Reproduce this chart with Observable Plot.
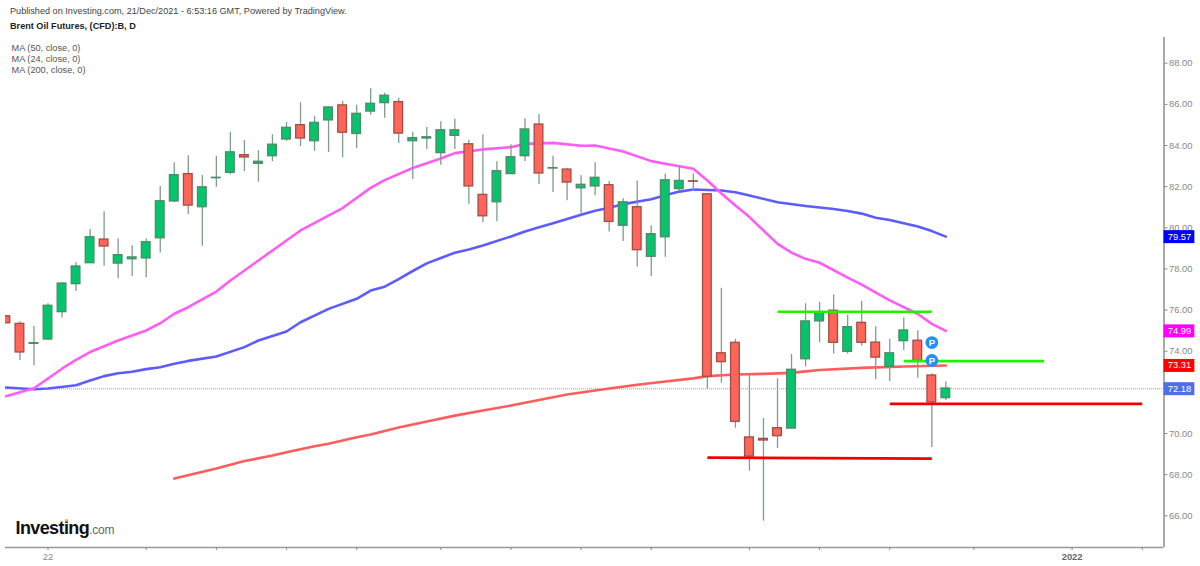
<!DOCTYPE html>
<html><head><meta charset="utf-8">
<script src="https://cdn.jsdelivr.net/npm/d3@7"></script>
<script src="https://cdn.jsdelivr.net/npm/@observablehq/plot@0.6"></script>
<style>
html,body{margin:0;padding:0;background:#fff;overflow:hidden}
#wrap{position:relative;width:1200px;height:566px;font-family:"Liberation Sans",Arial,sans-serif}
.t{position:absolute;white-space:nowrap;line-height:1}
svg{display:block}
</style></head><body><div id="wrap">
<div class="t" style="left:10px;top:6.5px;font-size:9.13px;color:#444">Published on Investing.com, 21/Dec/2021 - 6:53:16 GMT, Powered by TradingView.</div>
<div class="t" style="left:10px;top:22px;font-size:9.13px;font-weight:bold;color:#222">Brent Oil Futures, (CFD):B, D</div>
<div class="t" style="left:11.5px;top:43.5px;font-size:9.2px;color:#555">MA (50, close, 0)</div>
<div class="t" style="left:11.5px;top:54.5px;font-size:9.2px;color:#555">MA (24, close, 0)</div>
<div class="t" style="left:11.5px;top:65.5px;font-size:9.2px;color:#555">MA (200, close, 0)</div>
<div class="t" style="left:15.5px;top:519px;font-size:18px;font-weight:bold;letter-spacing:-0.6px;color:#111">Investing<span style="font-size:12px;font-weight:normal;letter-spacing:-0.2px;color:#666">.com</span></div>
<div style="position:absolute;left:65px;top:519px;width:3px;height:3px;border-radius:50%;background:#f5a623"></div>
</div>
<script>
const open = [75.70,75.33,74.36,74.57,75.90,77.26,78.28,79.43,78.26,78.47,78.51,79.49,81.28,82.61,81.00,82.41,82.67,83.53,83.11,83.48,84.29,84.99,84.21,85.22,85.95,84.56,85.65,86.06,86.11,84.21,84.34,83.63,84.47,84.06,81.60,81.24,82.61,83.48,85.02,82.88,82.83,81.92,82.01,82.07,80.10,81.00,78.59,79.54,81.88,82.26,81.63,73.90,74.41,69.81,69.74,70.26,70.24,73.61,75.45,75.97,73.97,75.38,74.42,73.24,74.49,74.51,72.82,71.72];
const high = [75.70,75.43,75.20,76.31,77.34,78.30,79.92,80.78,79.45,79.13,79.45,82.01,83.16,83.50,82.54,83.47,84.63,84.24,83.74,84.52,85.12,86.08,85.42,85.90,86.15,85.96,86.76,86.54,86.30,84.65,84.88,85.15,85.28,84.24,84.52,83.21,84.04,85.30,85.51,83.48,82.90,82.53,83.16,82.25,81.41,82.27,80.10,82.61,83.01,82.61,81.67,77.06,74.58,72.90,70.74,72.66,73.84,76.31,76.38,76.74,75.75,76.43,75.19,74.58,75.62,74.99,72.90,72.51];
const low = [75.36,73.55,73.29,74.52,75.62,76.90,78.27,78.13,77.52,77.63,77.57,78.77,81.23,80.65,79.10,81.97,82.58,82.74,82.22,83.21,84.21,83.95,83.72,83.66,83.40,83.84,85.47,85.33,84.10,82.35,83.81,83.04,83.81,81.15,80.24,80.29,82.59,83.22,82.10,81.72,81.31,80.68,81.56,79.79,79.33,78.10,77.63,78.57,81.75,81.77,72.17,72.45,70.26,68.17,65.74,69.27,70.24,73.24,74.41,73.87,73.86,74.24,72.61,72.53,74.04,72.69,69.32,71.60];
const close = [75.36,73.94,74.39,76.21,77.29,78.12,79.54,79.09,78.67,78.56,79.30,81.29,82.56,81.08,81.97,82.43,83.67,83.42,83.21,84.04,84.86,84.34,85.10,85.85,84.62,85.54,86.03,86.42,84.58,84.36,84.40,84.74,84.74,82.01,80.56,82.75,83.43,84.78,82.64,82.90,82.20,82.09,82.43,80.29,81.24,78.91,79.69,82.31,82.28,82.24,72.76,73.47,70.57,68.88,69.66,69.87,73.10,75.45,75.87,74.41,75.17,74.41,73.69,73.90,75.01,73.53,71.51,72.19];

const ma24Idx = [0,2,4,5,6,8,10,11,12,13,15,16,18,21,24,26,27,29,31,32,34,36,37,39,41,42,44,46,47,49,50,51,52,53,54,55,56,57,58,60,61,63,65,66,67];
const ma24Val = [71.81,72.20,73.15,73.58,73.96,74.52,75.01,75.36,75.82,76.14,76.90,77.44,78.41,79.87,80.96,81.94,82.32,82.91,83.37,83.63,83.81,83.92,84.08,84.13,83.99,84.00,83.71,83.24,83.11,82.87,82.30,81.67,81.08,80.52,79.87,79.22,78.79,78.49,78.30,77.58,77.24,76.47,75.81,75.33,74.99];
const ma50Idx = [0,2,3,5,6,7,8,9,10,11,12,13,15,17,18,20,21,23,25,26,27,28,29,30,31,32,33,34,36,37,38,39,41,42,43,44,46,47,48,49,51,52,53,55,57,59,60,61,62,63,65,66,67];
const ma50Val = [72.24,72.15,72.19,72.35,72.58,72.79,72.93,73.00,73.13,73.22,73.39,73.53,73.74,74.20,74.52,74.96,75.41,76.06,76.55,76.95,77.14,77.51,77.90,78.27,78.53,78.79,78.95,79.14,79.58,79.82,80.03,80.22,80.63,80.83,80.97,81.15,81.39,81.58,81.76,81.86,81.81,81.73,81.57,81.24,81.06,80.91,80.82,80.69,80.49,80.38,80.06,79.84,79.57];
const ma200Idx = [12,15,17,19,20,22,23,25,26,28,30,32,34,36,38,40,42,43,45,47,49,50,52,54,56,57,58,61,64,67];
const ma200Val = [67.81,68.30,68.66,68.93,69.09,69.38,69.50,69.82,69.95,70.29,70.58,70.87,71.12,71.36,71.63,71.90,72.09,72.19,72.37,72.53,72.68,72.79,72.87,72.90,72.95,73.02,73.09,73.19,73.26,73.31];

const levelSegments = [
  {x1:55,x2:66,y1:75.92,y2:75.92,color:"#22f000"},
  {x1:64,x2:74,y1:73.52,y2:73.52,color:"#22f000"},
  {x1:50,x2:66,y1:68.83,y2:68.78,color:"#f00000"},
  {x1:63,x2:81,y1:71.44,y2:71.44,color:"#f00000"}
];
const pivotIdx = [66,66];
const pivotVal = [74.42,73.55];

const lastPrice = 72.18;
const valueLabels = [
  {v:79.57,color:"#0000ff"},
  {v:74.99,color:"#ff00ff"},
  {v:73.31,color:"#ff0000"},
  {v:72.18,color:"#4d70e6"}
];
const yTicks = [66,68,70,72,74,76,78,80,82,84,86,88];
const xTicks = [3,10,15,20,25,31,36,41,46,53,58,63,69,76,81];
const xLabels = [{i:3,text:"22",weight:"normal",color:"#888"},{i:76,text:"2022",weight:"bold",color:"#666"}];

const xDomain = [-0.03,82.55];
const yDomain = [64.46,89.25];
const labelStart = xDomain[1];
const labelEnd = 84.75;
const labelMid = 83.65;
const bodyHalf = 0.31;
const candles = d3.range(open.length).map(i => ({i,o:open[i],h:high[i],l:low[i],c:close[i],up:close[i]>=open[i]}));
const series = (idx,val) => idx.map((x,k)=>({x,y:val[k]}));

const chart = Plot.plot({
  width:1200,height:566,
  marginLeft:5,marginRight:36.5,marginTop:37,marginBottom:19,
  style:{background:"transparent",fontFamily:'"Liberation Sans",Arial,sans-serif'},
  x:{domain:xDomain,axis:null},
  y:{domain:yDomain,axis:null},
  marks:[
    Plot.ruleY([lastPrice],{stroke:"#a9bcf0",strokeWidth:1.5,strokeDasharray:"1,1"}),
    Plot.line(series(ma200Idx,ma200Val),{x:"x",y:"y",stroke:"#ff5c5c",strokeWidth:2.6,clip:true}),
    Plot.line(series(ma50Idx,ma50Val),{x:"x",y:"y",stroke:"#5c5cff",strokeWidth:2.6,clip:true}),
    Plot.line(series(ma24Idx,ma24Val),{x:"x",y:"y",stroke:"#ff5cf5",strokeWidth:2.6,clip:true}),
    Plot.ruleX(candles,{x:"i",y1:"l",y2:"h",stroke:"#7f9c8c",strokeWidth:1.3,clip:true}),
    Plot.rect(candles,{
      x1:d=>d.i-bodyHalf,x2:d=>d.i+bodyHalf,y1:"o",y2:"c",
      fill:{value:d=>d.up?"#05c46b":"#ff6659",scale:null},
      stroke:{value:d=>d.up?"#4f8a6c":"#a34c46",scale:null},
      strokeWidth:1.3,clip:true
    }),
    Plot.link(levelSegments,{x1:"x1",x2:"x2",y1:"y1",y2:"y2",stroke:{value:"color",scale:null},strokeWidth:2.6}),
    Plot.dot(pivotIdx.map((x,k)=>({x,y:pivotVal[k]})),{x:"x",y:"y",r:6.4,fill:"#1e90ff"}),
    Plot.text(pivotIdx.map((x,k)=>({x,y:pivotVal[k]})),{x:"x",y:"y",text:()=>"P",fill:"#fff",fontWeight:"bold",fontSize:9.5}),
    Plot.ruleY([yDomain[0]],{stroke:"#999",strokeWidth:1.5}),
    Plot.ruleX([xDomain[1]],{stroke:"#aaa",strokeWidth:2}),
    Plot.axisY({anchor:"right",ticks:yTicks,tickFormat:d=>d.toFixed(2),tickSize:3,tickPadding:2,fontSize:9.4,color:"#888",stroke:"#888",label:null}),
    Plot.axisX({anchor:"bottom",ticks:xTicks,tickFormat:()=>"",tickSize:3,color:"#888",stroke:"#888",label:null}),
    Plot.text(xLabels,{x:"i",text:"text",frameAnchor:"bottom",dy:12.5,fontSize:9.4,fontWeight:"bold",fill:{value:"color",scale:null},filter:d=>d.weight==="bold"}),
    Plot.text(xLabels,{x:"i",text:"text",frameAnchor:"bottom",dy:12.5,fontSize:9.4,fill:{value:"color",scale:null},filter:d=>d.weight!=="bold"}),
    Plot.ruleY(valueLabels,{y:"v",x1:()=>labelStart,x2:()=>labelEnd,stroke:{value:"color",scale:null},strokeWidth:13}),
    Plot.text(valueLabels,{y:"v",x:()=>labelMid,text:d=>d.v.toFixed(2),fill:"#fff",fontSize:9.4})
  ]
});
document.getElementById("wrap").prepend(chart);
chart.style.position="absolute";chart.style.left="0";chart.style.top="0";
</script></body></html>
